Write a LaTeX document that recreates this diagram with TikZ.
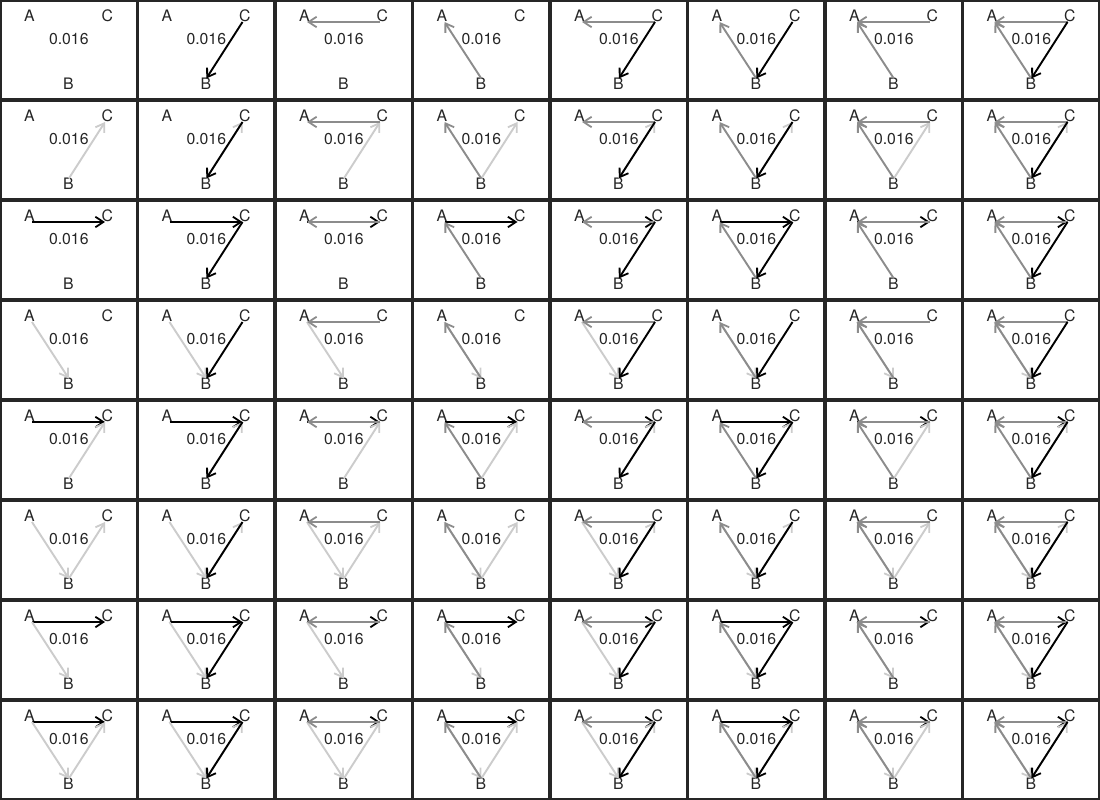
\documentclass[tikz,border=0pt]{standalone}
\usepackage{fontspec}
\setmainfont{TeX Gyre Heros}
\usetikzlibrary{arrows.meta}
\definecolor{framecol}{gray}{0.15}
\definecolor{midgray}{gray}{0.55}
\definecolor{ltgray}{gray}{0.8}
\tikzset{
  edge/.style={line width=1.9pt, -{Straight Barb[length=8pt,width=10.5pt,line width=1.8pt]}},
  blk/.style={edge, draw=black},
  mid/.style={edge, draw=midgray},
  lite/.style={edge, draw=ltgray},
  lbl/.style={font=\fontsize{15.8}{18}\selectfont, inner sep=0pt, text=black!85},
  panel/.style={draw=framecol, line width=1.6pt}
}
\newcommand\roweds[1]{\ifcase#1\relax
  \or \draw[lite] (B)--(C);
  \or \draw[blk] (A)--(C);
  \or \draw[lite] (A)--(B);
  \or \draw[blk] (A)--(C); \draw[lite] (B)--(C);
  \or \draw[lite] (A)--(B); \draw[lite] (B)--(C);
  \or \draw[blk] (A)--(C); \draw[lite] (A)--(B);
  \or \draw[blk] (A)--(C); \draw[lite] (A)--(B); \draw[lite] (B)--(C);
  \fi}
\newcommand\coleds[1]{\ifcase#1\relax
  \or \draw[blk] (C)--(B);
  \or \draw[mid] (C)--(A);
  \or \draw[mid] (B)--(A);
  \or \draw[mid] (C)--(A); \draw[blk] (C)--(B);
  \or \draw[mid] (B)--(A); \draw[blk] (C)--(B);
  \or \draw[mid] (C)--(A); \draw[mid] (B)--(A);
  \or \draw[mid] (C)--(A); \draw[mid] (B)--(A); \draw[blk] (C)--(B);
  \fi}
\begin{document}
\begin{tikzpicture}[x=1pt,y=-1pt]
\useasboundingbox (0,0) rectangle (1100,800);
\fill[white] (0,0) rectangle (1100,800);
\foreach \c in {0,...,7}{
  \foreach \r in {0,...,7}{
    \begin{scope}[shift={(\c*137.5,\r*100)}]
      \draw[panel] (0.8,0.8) rectangle (136.7,99.2);
      \node[lbl] (tA) at (29.5,16) {A};
      \node[lbl] (tC) at (107.3,16) {C};
      \node[lbl] (tB) at (68.5,83.3) {B};
      \node[lbl] (w) at (68.8,38.8) {0.016};
      \coordinate (A) at (32,22);
      \coordinate (C) at (105,22);
      \coordinate (B) at (68.8,78.5);
      \roweds{\r}
      \coleds{\c}
    \end{scope}
  }
}
\end{tikzpicture}
\end{document}
